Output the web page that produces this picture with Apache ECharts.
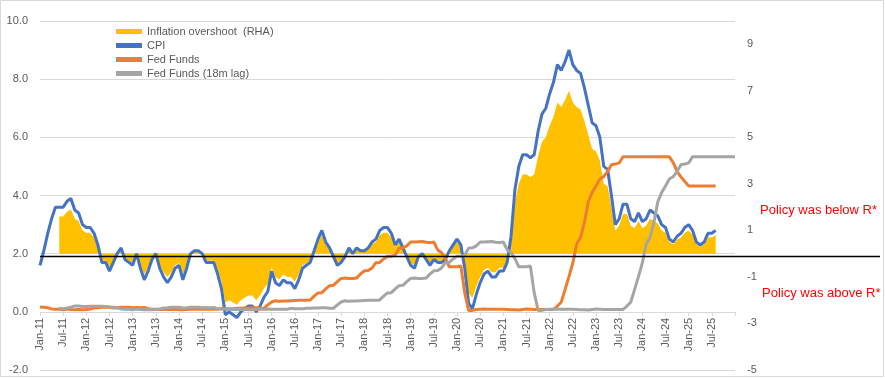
<!DOCTYPE html>
<html><head><meta charset="utf-8">
<script src="https://cdn.jsdelivr.net/npm/echarts@6/dist/echarts.min.js"></script>
<style>html,body{margin:0;padding:0;background:#fff}#c{width:885px;height:378px}</style>
</head><body><div id="c"></div>
<script>
// Monthly categories Jan-11 .. Jan-26
const monthNames = ['Jan','Feb','Mar','Apr','May','Jun','Jul','Aug','Sep','Oct','Nov','Dec'];
const categories = [];
for (let y = 11; y <= 26; y++) {
  for (let m = 0; m < 12; m++) {
    if (y === 26 && m > 0) break;
    categories.push(monthNames[m] + '-' + y);
  }
}

// CPI y/y %, Jan-11 .. Aug-25 (left axis)
const cpi = [
  1.6, 2.1, 2.7, 3.2, 3.6, 3.6, 3.6, 3.8, 3.9, 3.5, 3.4, 3.0,
  2.9, 2.9, 2.7, 2.3, 1.7, 1.7, 1.4, 1.7, 2.0, 2.2, 1.8, 1.7,
  1.6, 2.0, 1.5, 1.1, 1.4, 1.8, 2.0, 1.5, 1.2, 1.0, 1.2, 1.5,
  1.6, 1.1, 1.5, 2.0, 2.1, 2.1, 2.0, 1.7, 1.7, 1.7, 1.3, 0.8,
  -0.1, 0.0, -0.1, -0.2, 0.0, 0.1, 0.2, 0.2, 0.0, 0.2, 0.5, 0.7,
  1.4, 1.0, 0.9, 1.1, 1.0, 1.0, 0.8, 1.1, 1.5, 1.6, 1.7, 2.1,
  2.5, 2.8, 2.4, 2.2, 1.9, 1.6, 1.7, 1.9, 2.2, 2.0, 2.2, 2.1,
  2.1, 2.2, 2.4, 2.5, 2.8, 2.9, 2.9, 2.7, 2.3, 2.5, 2.2, 1.9,
  1.6, 1.5, 1.9, 2.0, 1.8, 1.6, 1.8, 1.7, 1.7, 1.8, 2.1, 2.3,
  2.5, 2.3, 1.5, 0.3, 0.1, 0.6, 1.0, 1.3, 1.4, 1.2, 1.2, 1.4,
  1.4, 1.7, 2.6, 4.2, 5.0, 5.4, 5.4, 5.3, 5.4, 6.2, 6.8, 7.0,
  7.5, 7.9, 8.5, 8.3, 8.6, 9.0, 8.5, 8.3, 8.2, 7.7, 7.1, 6.5,
  6.4, 6.0, 5.0, 4.9, 4.0, 3.0, 3.2, 3.7, 3.7, 3.2, 3.1, 3.4,
  3.1, 3.2, 3.5, 3.4, 3.3, 3.0, 2.9, 2.5, 2.4, 2.6, 2.7, 2.9,
  3.0, 2.8, 2.4, 2.3, 2.4, 2.7, 2.7, 2.8
];

// Inflation overshoot (RHA), Jun-11 .. Aug-25 (right axis)
const overshootStart = 5;
const overshoot = [
  1.6, 1.6, 1.8, 1.9, 1.5, 1.4, 1.0,
  0.9, 0.9, 0.7, 0.3, -0.3, -0.3, -0.6, -0.3, 0.0, 0.2, -0.2, -0.3,
  -0.4, 0.0, -0.5, -0.9, -0.6, -0.2, 0.0, -0.5, -0.8, -1.0, -0.8, -0.5,
  -0.4, -0.9, -0.5, 0.0, 0.1, 0.1, 0.0, -0.3, -0.3, -0.3, -0.7, -1.2,
  -2.1, -2.0, -2.1, -2.2, -2.0, -1.9, -1.8, -1.8, -2.0, -1.8, -1.5, -1.3,
  -0.6, -1.0, -1.1, -0.9, -1.0, -1.0, -1.2, -0.9, -0.5, -0.4, -0.3, 0.1,
  0.5, 0.8, 0.4, 0.2, -0.1, -0.4, -0.3, -0.1, 0.2, 0.0, 0.2, 0.1,
  0.1, 0.2, 0.4, 0.5, 0.8, 0.9, 0.9, 0.7, 0.3, 0.5, 0.2, -0.1,
  -0.4, -0.5, -0.1, 0.0, -0.2, -0.4, -0.2, -0.3, -0.3, -0.2, 0.1, 0.3,
  0.5, 0.3, -0.5, -1.7, -1.9, -1.4, -1.0, -0.7, -0.6, -0.8, -0.8, -0.6,
  -0.6, -0.3, 0.6, 2.2, 3.0, 3.4, 3.4, 3.3, 3.4, 4.2, 4.8, 5.0,
  5.5, 5.9, 6.5, 6.3, 6.6, 7.0, 6.5, 6.3, 6.2, 5.7, 5.1, 4.5,
  4.4, 4.0, 3.0, 2.9, 2.0, 1.0, 1.2, 1.7, 1.7, 1.2, 1.1, 1.4,
  1.1, 1.2, 1.5, 1.4, 1.3, 1.0, 0.9, 0.5, 0.4, 0.6, 0.7, 0.9,
  1.0, 0.8, 0.4, 0.3, 0.4, 0.7, 0.7, 0.8
];

// Fed Funds effective rate, Jan-11 .. Aug-25 (left axis)
const fedFunds = [
  0.17, 0.16, 0.14, 0.10, 0.09, 0.09, 0.07, 0.10, 0.08, 0.07, 0.08, 0.07,
  0.08, 0.10, 0.13, 0.14, 0.16, 0.16, 0.16, 0.13, 0.14, 0.16, 0.16, 0.16,
  0.14, 0.15, 0.14, 0.15, 0.11, 0.09, 0.09, 0.08, 0.08, 0.09, 0.08, 0.09,
  0.07, 0.07, 0.08, 0.09, 0.09, 0.10, 0.09, 0.09, 0.09, 0.09, 0.09, 0.12,
  0.11, 0.11, 0.11, 0.12, 0.12, 0.13, 0.13, 0.14, 0.14, 0.12, 0.12, 0.24,
  0.34, 0.38, 0.36, 0.37, 0.37, 0.38, 0.39, 0.40, 0.40, 0.40, 0.41, 0.54,
  0.65, 0.66, 0.79, 0.90, 0.91, 1.04, 1.15, 1.16, 1.15, 1.15, 1.16, 1.30,
  1.41, 1.42, 1.51, 1.69, 1.70, 1.82, 1.91, 1.91, 1.95, 2.19, 2.20, 2.27,
  2.40, 2.40, 2.41, 2.42, 2.39, 2.38, 2.40, 2.13, 2.04, 1.83, 1.55, 1.55,
  1.55, 1.58, 0.65, 0.05, 0.05, 0.08, 0.09, 0.10, 0.09, 0.09, 0.09, 0.09,
  0.09, 0.08, 0.07, 0.07, 0.06, 0.08, 0.10, 0.09, 0.08, 0.08, 0.08, 0.08,
  0.08, 0.08, 0.20, 0.33, 0.77, 1.21, 1.68, 2.33, 2.56, 3.08, 3.78, 4.10,
  4.33, 4.57, 4.65, 4.83, 5.06, 5.08, 5.12, 5.33, 5.33, 5.33, 5.33, 5.33,
  5.33, 5.33, 5.33, 5.33, 5.33, 5.33, 5.33, 5.33, 5.13, 4.83, 4.64, 4.48,
  4.33, 4.33, 4.33, 4.33, 4.33, 4.33, 4.33, 4.33
];

// Fed Funds (18m lag), Jun-11 .. Jan-26 (left axis)
const fedLagStart = 5;
const fedFundsLag = [
  0.12,
  0.11, 0.13, 0.16, 0.20, 0.20, 0.18, 0.18, 0.19, 0.19, 0.19, 0.19, 0.18,
  0.17, 0.16, 0.14, 0.10, 0.09, 0.09, 0.07, 0.10, 0.08, 0.07, 0.08, 0.07,
  0.08, 0.10, 0.13, 0.14, 0.16, 0.16, 0.16, 0.13, 0.14, 0.16, 0.16, 0.16,
  0.14, 0.15, 0.14, 0.15, 0.11, 0.09, 0.09, 0.08, 0.08, 0.09, 0.08, 0.09,
  0.07, 0.07, 0.08, 0.09, 0.09, 0.10, 0.09, 0.09, 0.09, 0.09, 0.09, 0.12,
  0.11, 0.11, 0.11, 0.12, 0.12, 0.13, 0.13, 0.14, 0.14, 0.12, 0.12, 0.24,
  0.34, 0.38, 0.36, 0.37, 0.37, 0.38, 0.39, 0.40, 0.40, 0.40, 0.41, 0.54,
  0.65, 0.66, 0.79, 0.90, 0.91, 1.04, 1.15, 1.16, 1.15, 1.15, 1.16, 1.30,
  1.41, 1.42, 1.51, 1.69, 1.70, 1.82, 1.91, 1.91, 1.95, 2.19, 2.20, 2.27,
  2.40, 2.40, 2.41, 2.42, 2.39, 2.38, 2.40, 2.13, 2.04, 1.83, 1.55, 1.55,
  1.55, 1.58, 0.65, 0.05, 0.05, 0.08, 0.09, 0.10, 0.09, 0.09, 0.09, 0.09,
  0.09, 0.08, 0.07, 0.07, 0.06, 0.08, 0.10, 0.09, 0.08, 0.08, 0.08, 0.08,
  0.08, 0.08, 0.20, 0.33, 0.77, 1.21, 1.68, 2.33, 2.56, 3.08, 3.78, 4.10,
  4.33, 4.57, 4.65, 4.83, 5.06, 5.08, 5.12, 5.33, 5.33, 5.33, 5.33, 5.33,
  5.33, 5.33, 5.33, 5.33, 5.33, 5.33, 5.33
];

const leftTicks = { min: -2, max: 10, interval: 2 };
const rightTicks = { min: -5, max: 10, interval: 2 };
const refLevel = 1.93; // black reference line (left-axis value)
const annotations = ['Policy was below R*', 'Policy was above R*'];
const labelEvery = 6;
const lastLabelIndex = 174; // Jul-25

function pad(start, arr) { return new Array(start).fill(null).concat(arr); }

const FONT = 'Liberation Sans';
const TXT = '#595959';
const chart = echarts.init(document.getElementById('c'), null, { renderer: 'canvas' });
const option = {
  backgroundColor: '#fff',
  animation: false,
  grid: { left: 40, right: 150, top: 21, bottom: 8, containLabel: false, outerBoundsMode: 'none' },
  legend: {
    orient: 'vertical', left: 111, top: 20, icon: 'rect',
    itemWidth: 26, itemHeight: 5, itemGap: 1,
    textStyle: { fontFamily: FONT, fontSize: 11, color: TXT, lineHeight: 13 },
    data: ['Inflation overshoot  (RHA)', 'CPI', 'Fed Funds', 'Fed Funds (18m lag)']
  },
  xAxis: {
    type: 'category', data: categories, boundaryGap: false,
    axisLine: { onZero: false, lineStyle: { color: '#D9D9D9', width: 1 } },
    axisTick: { show: true, interval: labelEvery - 1, length: 4, lineStyle: { color: '#D9D9D9' } },
    axisLabel: {
      interval: (i) => i % labelEvery === 0 && i <= lastLabelIndex,
      rotate: 90, fontFamily: FONT, fontSize: 11, color: TXT, margin: 6
    },
    splitLine: { show: false }
  },
  yAxis: [
    {
      type: 'value', min: leftTicks.min, max: leftTicks.max, interval: leftTicks.interval,
      axisLine: { show: false }, axisTick: { show: false },
      axisLabel: { fontFamily: FONT, fontSize: 11, color: TXT, margin: 12, formatter: v => v.toFixed(1) },
      splitLine: { lineStyle: { color: '#D9D9D9', width: 1 } }
    },
    {
      type: 'value', min: rightTicks.min, max: rightTicks.max, interval: rightTicks.interval,
      position: 'right',
      axisLine: { show: false }, axisTick: { show: false },
      axisLabel: { fontFamily: FONT, fontSize: 11, color: TXT, margin: 12,
        formatter: v => (v === rightTicks.max ? '' : String(v)) },
      splitLine: { show: false }
    }
  ],
  series: [
    {
      name: 'Inflation overshoot  (RHA)', type: 'line', yAxisIndex: 1,
      data: pad(overshootStart, overshoot), symbol: 'none', connectNulls: false,
      lineStyle: { width: 0, color: '#FFC000' }, itemStyle: { color: '#FFC000' },
      areaStyle: { color: '#FFC000', opacity: 1 }, z: 1
    },
    {
      name: 'CPI', type: 'line', yAxisIndex: 0, data: cpi, symbol: 'none',
      lineStyle: { width: 3, color: '#4472C4' }, itemStyle: { color: '#4472C4' }, z: 3
    },
    {
      name: 'Fed Funds', type: 'line', yAxisIndex: 0, data: fedFunds, symbol: 'none',
      lineStyle: { width: 3, color: '#ED7D31' }, itemStyle: { color: '#ED7D31' }, z: 4
    },
    {
      name: 'Fed Funds (18m lag)', type: 'line', yAxisIndex: 0, data: pad(fedLagStart, fedFundsLag), symbol: 'none',
      lineStyle: { width: 3, color: '#A5A5A5' }, itemStyle: { color: '#A5A5A5' }, z: 5
    }
  ]
};
chart.setOption(option);

// Place the category axis on the zero line of the left axis
const yZero = chart.convertToPixel({ yAxisIndex: 0 }, 0);
const yBottom = chart.convertToPixel({ yAxisIndex: 0 }, leftTicks.min);
const yRef = Math.round(chart.convertToPixel({ yAxisIndex: 0 }, refLevel)) + 0.5;
const xLeft = chart.convertToPixel({ xAxisIndex: 0 }, 0);
chart.setOption({
  xAxis: { offset: -(yBottom - yZero) },
  graphic: [
    { type: 'rect', shape: { x: 0.5, y: 0.5, width: 883, height: 376 },
      style: { fill: 'none', stroke: '#D9D9D9', lineWidth: 1 }, z: 0, silent: true },
    { type: 'line', shape: { x1: xLeft, y1: yRef, x2: 880, y2: yRef },
      style: { stroke: '#000', lineWidth: 1.3 }, z: 10, silent: true },
    { type: 'text', left: 760, top: 204,
      style: { text: annotations[0], fill: '#FF0000', font: '13px "Liberation Sans"' }, z: 10 },
    { type: 'text', left: 762, top: 287,
      style: { text: annotations[1], fill: '#FF0000', font: '13px "Liberation Sans"' }, z: 10 }
  ]
});
</script>
</body></html>
